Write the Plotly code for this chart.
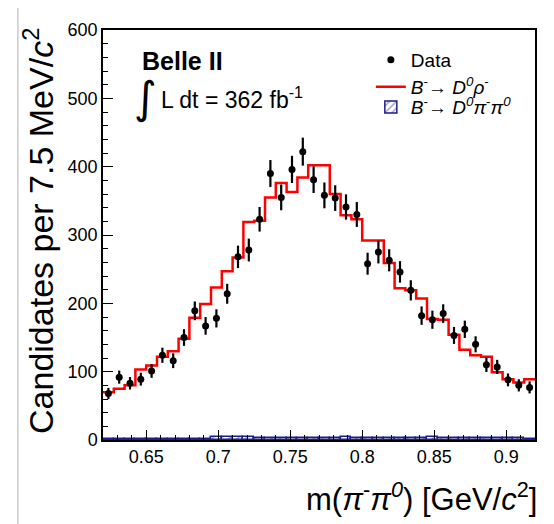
import plotly.graph_objects as go

# ---- data ----
bin_centers = [0.62375, 0.63125, 0.63875, 0.64625, 0.65375, 0.66125, 0.66875, 0.67625, 0.68375, 0.69125,
               0.69875, 0.70625, 0.71375, 0.72125, 0.72875, 0.73625, 0.74375, 0.75125, 0.75875, 0.76625,
               0.77375, 0.78125, 0.78875, 0.79625, 0.80375, 0.81125, 0.81875, 0.82625, 0.83375, 0.84125,
               0.84875, 0.85625, 0.86375, 0.87125, 0.87875, 0.88625, 0.89375, 0.90125, 0.90875, 0.91625]
bin_width = 0.0075

data_counts = [68, 92, 83, 89, 101, 124, 116, 150, 189, 167,
               178, 214, 268, 278, 323, 390, 355, 396, 422, 381,
               358, 354, 341, 330, 258, 275, 263, 246, 219, 182,
               176, 185, 153, 162, 140, 110, 107, 88, 80, 77]
data_errors = [8.2, 9.6, 9.1, 9.4, 10.0, 11.1, 10.8, 12.2, 13.7, 12.9,
               13.3, 14.6, 16.4, 16.7, 18.0, 19.7, 18.8, 19.9, 20.5, 19.5,
               18.9, 18.8, 18.5, 18.2, 16.1, 16.6, 16.2, 15.7, 14.8, 13.5,
               13.3, 13.6, 12.4, 12.7, 11.8, 10.5, 10.3, 9.4, 8.9, 8.8]

rho_model = [70, 75, 80, 103, 109, 122, 130, 148, 179, 199,
             223, 247, 267, 319, 321, 355, 376, 363, 384, 402,
             402, 360, 329, 323, 292, 292, 259, 222, 219, 207,
             177, 176, 154, 132, 124, 122, 99, 89, 84, 89]

pipi_model = [1, 1, 1, 1, 1, 1, 2, 2, 2, 2,
              4, 4, 4, 4, 3, 3, 3, 3, 3, 3,
              3, 3, 5, 3, 3, 3, 3, 3, 3, 3,
              5, 3, 3, 3, 3, 3, 3, 3, 3, 2]

x_tickvals = [0.65, 0.7, 0.75, 0.8, 0.85, 0.9]
x_ticktext = ["0.65", "0.7", "0.75", "0.8", "0.85", "0.9"]
y_tickvals = [0, 100, 200, 300, 400, 500, 600]

# step-histogram edges for the red model
edges = [c - bin_width / 2 for c in bin_centers] + [bin_centers[-1] + bin_width / 2]

FONT = "Liberation Sans, Arial, Helvetica, sans-serif"
NAVY = "#1c1c8a"

fig = go.Figure()

fig.add_trace(go.Bar(
    x=bin_centers, y=pipi_model, width=bin_width,
    marker=dict(color="white", line=dict(color=NAVY, width=1.5),
                pattern=dict(shape="/", fgcolor="#3a3aa8", bgcolor="white", size=6, solidity=0.3)),
    name="<i>B</i><sup>-</sup>\u2192 <i>D</i><sup><i>0</i></sup><i>\u03c0</i><sup>-</sup><i>\u03c0</i><sup><i>0</i></sup>",
    legend="legend3",
))

fig.add_trace(go.Scatter(
    x=edges, y=rho_model + [rho_model[-1]],
    mode="lines", line=dict(shape="hv", color="#ff0000", width=2.5),
    name="<i>B</i><sup>-</sup>\u2192 <i>D</i><sup><i>0</i></sup><i>\u03c1</i><sup>-</sup>",
    legend="legend2",
))

fig.add_trace(go.Scatter(
    x=bin_centers, y=data_counts,
    mode="markers",
    marker=dict(color="black", size=7, symbol="circle"),
    error_y=dict(type="data", array=data_errors, visible=True, color="black", thickness=2.2, width=0),
    name="Data",
    legend="legend",
))

leg_common = dict(x=0.62, xanchor="left", yanchor="middle", bgcolor="rgba(0,0,0,0)",
                  font=dict(size=19, family=FONT), itemwidth=30)

fig.update_layout(
    width=554, height=524,
    margin=dict(l=95, r=27, t=22, b=92),
    paper_bgcolor="white", plot_bgcolor="white",
    font=dict(family=FONT, size=18, color="black"),
    showlegend=True, bargap=0,
    legend=dict(y=0.927, **leg_common),
    legend2=dict(y=0.861, **leg_common),
    legend3=dict(y=0.812, **leg_common),
    xaxis=dict(range=[0.62, 0.92], tickvals=x_tickvals, ticktext=x_ticktext,
               ticks="inside", ticklen=10, tickwidth=1, tickcolor="black",
               minor=dict(ticks="inside", ticklen=5, dtick=0.01, tick0=0.62, tickcolor="black"),
               showline=True, linecolor="black", linewidth=1.5, mirror=True,
               showgrid=False, zeroline=False, tickfont=dict(size=18)),
    yaxis=dict(range=[0, 600], tickvals=y_tickvals,
               ticks="inside", ticklen=10, tickwidth=1, tickcolor="black",
               minor=dict(ticks="inside", ticklen=5, dtick=20, tickcolor="black"),
               showline=True, linecolor="black", linewidth=1.5, mirror=True,
               showgrid=False, zeroline=False, tickfont=dict(size=18)),
    annotations=[
        dict(text="<b>Belle II</b>", xref="paper", yref="paper", x=0.085, y=0.925,
             xanchor="left", yanchor="middle", showarrow=False, font=dict(size=25, family=FONT)),
        dict(text="\u222b", xref="paper", yref="paper", x=0.068, y=0.836,
             xanchor="left", yanchor="middle", showarrow=False, font=dict(size=44, family="DejaVu Sans")),
        dict(text="L dt = 362 fb<sup>-1</sup>", xref="paper", yref="paper", x=0.13, y=0.835,
             xanchor="left", yanchor="middle", showarrow=False, font=dict(size=23, family=FONT)),
        dict(text="m(<i>\u03c0</i><sup>-</sup><i>\u03c0</i><sup><i>0</i></sup>) [GeV/<i>c</i><sup>2</sup>]",
             xref="paper", yref="paper", x=1.01, y=-0.14, xanchor="right", yanchor="middle",
             showarrow=False, font=dict(size=31, family=FONT)),
        dict(text="Candidates per 7.5 MeV/<i>c</i><sup>2</sup>", textangle=-90,
             xref="paper", yref="paper", x=-0.148, y=1.01, xanchor="center", yanchor="top",
             showarrow=False, font=dict(size=34, family=FONT)),
    ],
    shapes=[
        dict(type="line", xref="paper", yref="paper", x0=-0.197, x1=-0.197, y0=-0.3, y1=1.1,
             line=dict(color="#cccccc", width=1.5)),
    ],
)

fig.write_html("out.html")
